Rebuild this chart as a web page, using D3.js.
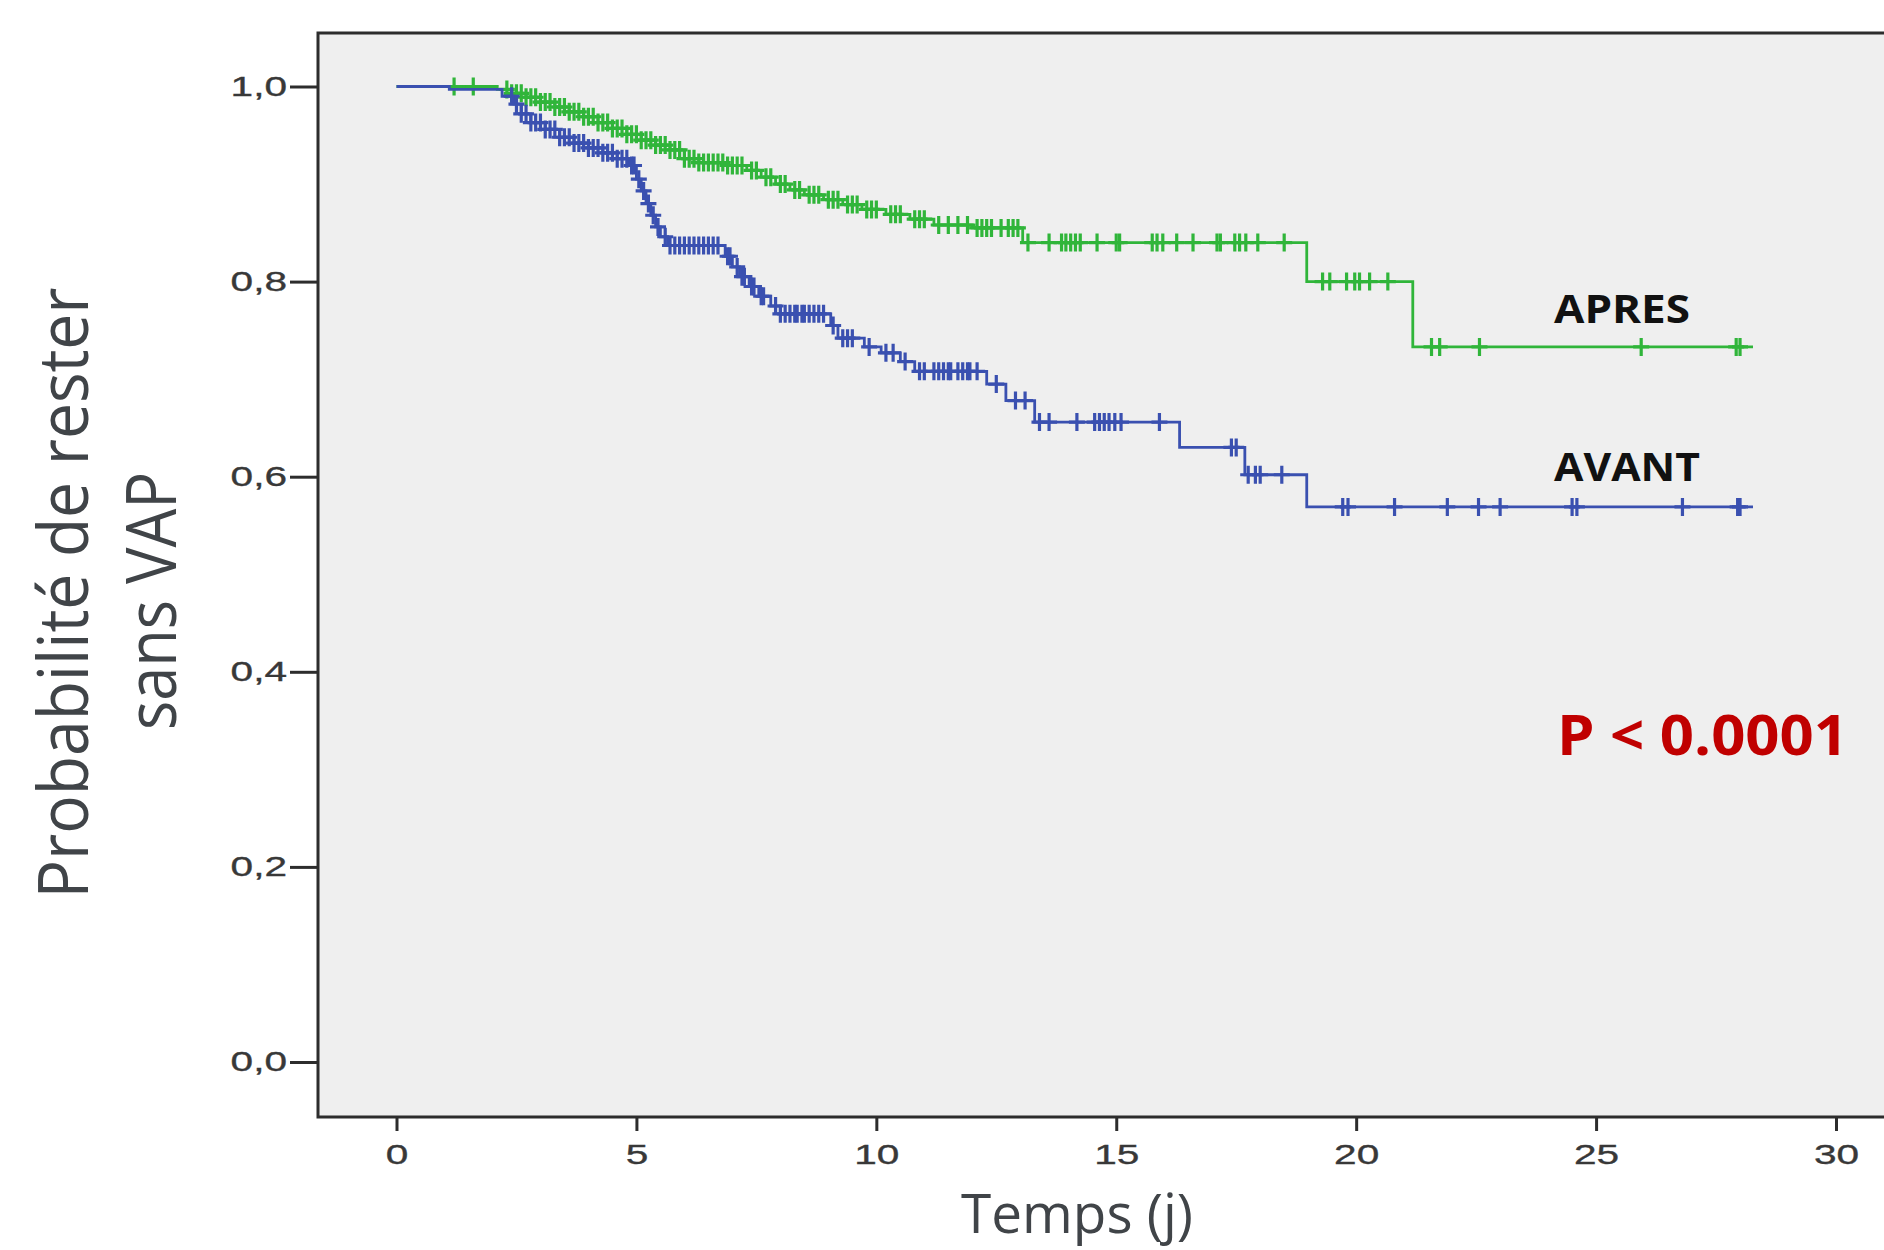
<!DOCTYPE html>
<html lang="fr">
<head>
    <meta charset="UTF-8">
    <title>Probabilité de rester sans VAP</title>
    <script src="https://d3js.org/d3.v7.min.js"></script>
    <style>
        body { margin: 0; background: #fff; }
        svg { display: block; }
    </style>
</head>
<body>
    <div id="chart"></div>
    <script>
        // axes
        const xTicks = [0, 5, 10, 15, 20, 25, 30];
        const yTicks = [0, 0.2, 0.4, 0.6, 0.8, 1.0];
        const followUpEnd = 28.27;

        // APRES : temps des événements (j) et survie après chaque marche
        const apresTimes = [0, 2.1, 2.4, 2.7, 3.0, 3.3, 3.6, 3.9, 4.2, 4.5, 4.8, 5.1, 5.4, 5.7, 6.0, 6.3, 6.9, 7.3, 7.6, 7.9, 8.2, 8.5, 8.9, 9.3, 9.7, 10.2, 10.7, 11.2, 12.0, 13.05, 18.97, 21.18];
        const apresSurv = [1.0, 0.997, 0.993, 0.989, 0.984, 0.979, 0.974, 0.969, 0.963, 0.957, 0.951, 0.945, 0.940, 0.935, 0.926, 0.922, 0.919, 0.914, 0.907, 0.900, 0.894, 0.889, 0.884, 0.879, 0.874, 0.869, 0.864, 0.858, 0.855, 0.840, 0.800, 0.733];
        const apresCensored = [1.2, 1.6, 2.3, 2.4, 2.5, 2.6, 2.7, 2.8, 2.9, 3.0, 3.1, 3.2, 3.3, 3.4, 3.5, 3.6, 3.7, 3.8, 3.9, 4.0, 4.1, 4.2, 4.3, 4.4, 4.5, 4.6, 4.7, 4.8, 4.9, 5.0, 5.1, 5.2, 5.3, 5.4, 5.5, 5.6, 5.7, 5.8, 5.9, 6.0, 6.1, 6.2, 6.3, 6.4, 6.5, 6.6, 6.7, 6.8, 6.9, 7.0, 7.1, 7.2, 7.4, 7.5, 7.7, 7.8, 8.0, 8.1, 8.3, 8.4, 8.6, 8.7, 8.8, 9.0, 9.1, 9.2, 9.4, 9.5, 9.6, 9.8, 9.9, 10.0, 10.3, 10.4, 10.5, 10.8, 10.9, 11.0, 11.3, 11.5, 11.7, 11.9, 12.1, 12.2, 12.3, 12.4, 12.6, 12.75, 12.85, 12.95, 13.16, 13.6, 13.86, 13.95, 14.05, 14.15, 14.25, 14.6, 15.0, 15.07, 15.75, 15.85, 15.97, 16.26, 16.6, 17.1, 17.17, 17.47, 17.57, 17.7, 17.95, 18.5, 19.3, 19.45, 19.8, 19.97, 20.07, 20.28, 20.66, 21.57, 21.74, 22.57, 25.94, 27.92, 28.0];

        // AVANT
        const avantTimes = [0, 1.1, 2.2, 2.45, 2.6, 2.8, 3.1, 3.4, 3.7, 4.0, 4.3, 4.6, 4.85, 5.0, 5.1, 5.2, 5.3, 5.4, 5.5, 5.65, 6.85, 7.0, 7.15, 7.35, 7.55, 7.8, 8.0, 9.05, 9.2, 9.75, 10.1, 10.5, 10.8, 12.3, 12.7, 13.3, 16.32, 17.68, 18.97];
        const avantSurv = [1.0, 0.997, 0.99, 0.982, 0.972, 0.963, 0.956, 0.948, 0.942, 0.937, 0.932, 0.926, 0.919, 0.905, 0.893, 0.880, 0.868, 0.856, 0.846, 0.837, 0.826, 0.815, 0.805, 0.795, 0.785, 0.775, 0.767, 0.755, 0.742, 0.733, 0.727, 0.718, 0.708, 0.695, 0.678, 0.656, 0.630, 0.602, 0.569];
        const avantCensored = [2.4, 2.5, 2.6, 2.7, 2.8, 2.9, 3.0, 3.1, 3.2, 3.3, 3.4, 3.5, 3.6, 3.7, 3.8, 3.9, 4.0, 4.1, 4.2, 4.3, 4.4, 4.5, 4.6, 4.7, 4.8, 4.9, 4.95, 5.05, 5.15, 5.25, 5.35, 5.45, 5.6, 5.7, 5.8, 5.9, 6.0, 6.1, 6.2, 6.3, 6.4, 6.5, 6.6, 6.7, 6.9, 6.95, 7.1, 7.2, 7.25, 7.4, 7.45, 7.6, 7.65, 7.9, 8.0, 8.1, 8.2, 8.3, 8.35, 8.45, 8.5, 8.6, 8.7, 8.8, 8.9, 9.1, 9.3, 9.4, 9.5, 9.85, 10.2, 10.35, 10.6, 10.9, 11.0, 11.2, 11.3, 11.4, 11.5, 11.55, 11.7, 11.8, 11.9, 11.95, 12.1, 12.5, 12.9, 13.1, 13.4, 13.6, 14.18, 14.55, 14.65, 14.75, 14.85, 14.97, 15.1, 15.9, 17.4, 17.5, 17.75, 17.9, 18.0, 18.45, 19.72, 19.83, 20.8, 21.9, 22.55, 23.0, 24.5, 24.6, 26.8, 27.95, 28.0];

        const width = 1884, height = 1250;
        const frame = {left: 318, top: 33, bottom: 1117};

        const svg = d3.select("#chart").append("svg")
            .attr("width", width)
            .attr("height", height);

        const x = d3.scaleLinear().domain([0, 30]).range([396.5, 1836]);
        const y = d3.scaleLinear().domain([0, 1]).range([1062, 86.5]);

        svg.append("rect")
            .attr("x", frame.left).attr("y", frame.top)
            .attr("width", width - frame.left).attr("height", frame.bottom - frame.top)
            .attr("fill", "#efefef");

        const stretch = 1.45;

        const yAxis = svg.append("g")
            .attr("transform", `translate(${frame.left},0)`)
            .call(d3.axisLeft(y).tickValues(yTicks).tickSize(28).tickPadding(3)
                .tickFormat(d => d3.format(".1f")(d).replace(".", ",")));
        yAxis.select(".domain").remove();
        yAxis.selectAll("line").attr("stroke", "#2d2d2d").attr("stroke-width", 3);
        yAxis.selectAll("text")
            .attr("x", -31 / stretch)
            .attr("transform", `scale(${stretch},1)`)
            .style("font-family", "Liberation Sans, Arial, sans-serif")
            .style("font-size", "28px")
            .attr("fill", "#383838")
            .attr("stroke", "#383838")
            .attr("stroke-width", 0.35);

        const xAxis = svg.append("g")
            .attr("transform", `translate(0,${frame.bottom})`)
            .call(d3.axisBottom(x).tickValues(xTicks).tickSize(14).tickPadding(13));
        xAxis.select(".domain").remove();
        xAxis.selectAll("line").attr("stroke", "#2d2d2d").attr("stroke-width", 3);
        xAxis.selectAll("text")
            .attr("transform", `scale(${stretch},1)`)
            .style("font-family", "Liberation Sans, Arial, sans-serif")
            .style("font-size", "28px")
            .attr("fill", "#383838")
            .attr("stroke", "#383838")
            .attr("stroke-width", 0.35);

        // cadre
        svg.append("path")
            .attr("d", `M${width},${frame.top}H${frame.left}V${frame.bottom}H${width}`)
            .attr("fill", "none")
            .attr("stroke", "#2d2d2d")
            .attr("stroke-width", 3);

        function drawCurve(times, surv, censored, color) {
            const pts = times.map((t, i) => [t, surv[i]]);
            pts.push([followUpEnd, surv[surv.length - 1]]);

            svg.append("path")
                .datum(pts)
                .attr("fill", "none")
                .attr("stroke", color)
                .attr("stroke-width", 2.8)
                .attr("d", d3.line().x(d => x(d[0])).y(d => y(d[1])).curve(d3.curveStepAfter));

            const bis = d3.bisector(d => d).right;
            const marks = svg.append("g")
                .attr("stroke", color)
                .attr("stroke-width", 3.2);
            censored.forEach(t => {
                const s = surv[bis(times, t) - 1];
                const cx = x(t), cy = y(s);
                marks.append("path")
                    .attr("d", `M${cx},${cy - 9}V${cy + 9}M${cx - 8},${cy}H${cx + 8}`);
            });
        }

        drawCurve(apresTimes, apresSurv, apresCensored, "#30b53a");
        drawCurve(avantTimes, avantSurv, avantCensored, "#3a50b0");

        // titres des axes
        const titleFont = "'Open Sans', 'Noto Sans', sans-serif";
        svg.append("text")
            .attr("transform", "translate(88,593) rotate(-90)")
            .attr("text-anchor", "middle")
            .attr("textLength", 611).attr("lengthAdjust", "spacingAndGlyphs")
            .style("font-family", titleFont).style("font-size", "70px")
            .attr("fill", "#404448")
            .text("Probabilité de rester");
        svg.append("text")
            .attr("transform", "translate(176,601) rotate(-90)")
            .attr("text-anchor", "middle")
            .attr("textLength", 258).attr("lengthAdjust", "spacingAndGlyphs")
            .style("font-family", titleFont).style("font-size", "70px")
            .attr("fill", "#404448")
            .text("sans VAP");
        svg.append("text")
            .attr("x", 1077).attr("y", 1233)
            .attr("text-anchor", "middle")
            .attr("textLength", 232).attr("lengthAdjust", "spacingAndGlyphs")
            .style("font-family", titleFont).style("font-size", "54px")
            .attr("fill", "#404448")
            .text("Temps (j)");

        // annotations
        svg.append("text")
            .attr("x", 1554).attr("y", 323)
            .attr("textLength", 136).attr("lengthAdjust", "spacingAndGlyphs")
            .style("font-family", titleFont).style("font-weight", 700).style("font-size", "40px")
            .attr("fill", "#111")
            .text("APRES");
        svg.append("text")
            .attr("x", 1554).attr("y", 481)
            .attr("textLength", 146).attr("lengthAdjust", "spacingAndGlyphs")
            .style("font-family", titleFont).style("font-weight", 700).style("font-size", "40px")
            .attr("fill", "#111")
            .text("AVANT");
        svg.append("text")
            .attr("x", 1557).attr("y", 755)
            .attr("textLength", 291).attr("lengthAdjust", "spacingAndGlyphs")
            .style("font-family", titleFont).style("font-weight", 700).style("font-size", "56px")
            .attr("fill", "#c00000")
            .text("P < 0.0001");
    </script>
</body>
</html>
